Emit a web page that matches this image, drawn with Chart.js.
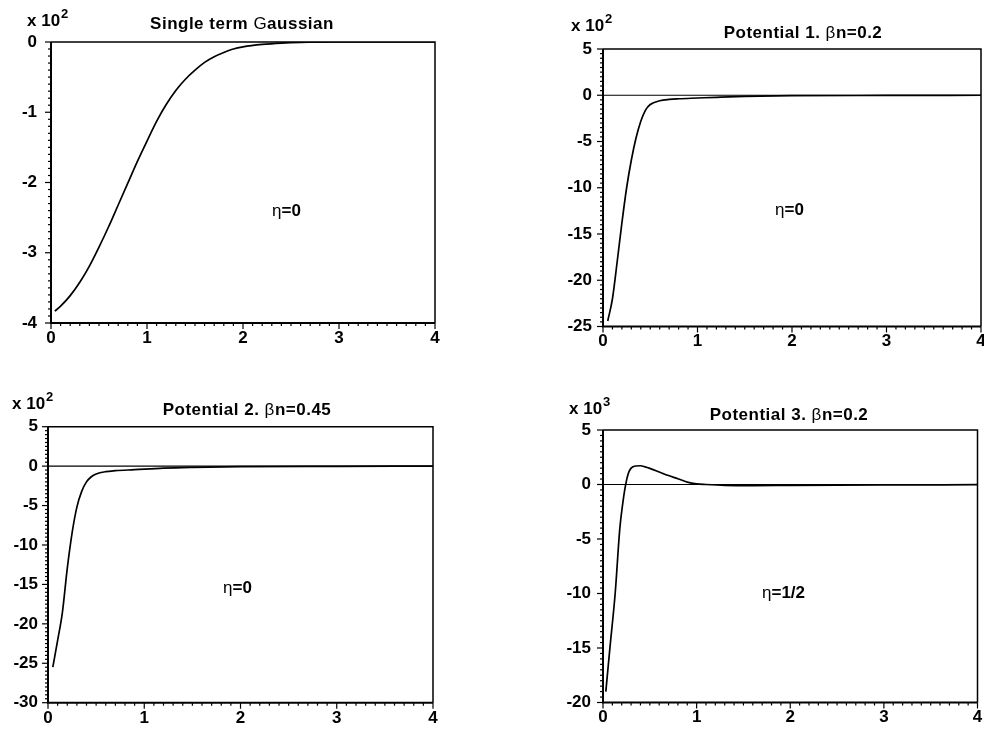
<!DOCTYPE html>
<html>
<head>
<meta charset="utf-8">
<script src="https://cdn.jsdelivr.net/npm/chart.js@4"></script>
<style>
  html,body{margin:0;padding:0;background:#fff;width:984px;height:729px;overflow:hidden;}
  .pane{position:absolute;}
  .txt{position:absolute;font-family:"Liberation Sans",Arial,sans-serif;color:#000;white-space:nowrap;line-height:1;}
  .title{font-weight:bold;font-size:17px;letter-spacing:0.5px;transform:translate(-50%,-50%);}
  .mult{font-weight:bold;font-size:17px;}
  .mult span{font-size:13px;position:relative;top:-8px;margin-left:1px;}
  .eta{font-size:17px;transform:translate(0,-50%);}
  .eta b{font-weight:bold;}
  .nb{font-weight:normal;}
</style>
</head>
<body>
<div class="pane" style="left:0;top:0;"><canvas id="c1" width="492" height="364"></canvas></div>
<div class="pane" style="left:492px;top:0;"><canvas id="c2" width="500" height="364"></canvas></div>
<div class="pane" style="left:0;top:364px;"><canvas id="c3" width="492" height="365"></canvas></div>
<div class="pane" style="left:492px;top:364px;"><canvas id="c4" width="500" height="365"></canvas></div>

<div class="txt title" style="left:242px;top:23px;">Single term <span class="nb">G</span>aussian</div>
<div class="txt title" style="left:803px;top:32px;">Potential 1. <span class="nb">β</span>n=0.2</div>
<div class="txt title" style="left:247px;top:409px;">Potential 2. <span class="nb">β</span>n=0.45</div>
<div class="txt title" style="left:789px;top:414px;">Potential 3. <span class="nb">β</span>n=0.2</div>

<div class="txt mult" style="left:27px;top:12px;">x 10<span>2</span></div>
<div class="txt mult" style="left:571px;top:17px;">x 10<span>2</span></div>
<div class="txt mult" style="left:12px;top:395px;">x 10<span>2</span></div>
<div class="txt mult" style="left:569px;top:400px;">x 10<span>3</span></div>

<div class="txt eta" style="left:272px;top:210px;">η<b>=0</b></div>
<div class="txt eta" style="left:775px;top:209px;">η<b>=0</b></div>
<div class="txt eta" style="left:223px;top:587px;">η<b>=0</b></div>
<div class="txt eta" style="left:762px;top:592px;">η<b>=1/2</b></div>

<script>
// ---- data ----
const xTickLabels = [0, 1, 2, 3, 4];

// Panel 1: Single term Gaussian (x 10^2)
const p1X = [0.04, 0.1, 0.2, 0.3, 0.4, 0.5, 0.6, 0.7, 0.8, 0.9, 1.0, 1.1, 1.2, 1.3, 1.4, 1.5, 1.6, 1.7, 1.8, 1.9, 2.0, 2.2, 2.4, 2.6, 3.0, 3.5, 4.0];
const p1Y = [-3.83, -3.76, -3.61, -3.42, -3.19, -2.92, -2.63, -2.32, -2.01, -1.70, -1.41, -1.13, -0.89, -0.69, -0.53, -0.40, -0.29, -0.21, -0.15, -0.10, -0.07, -0.035, -0.015, -0.005, 0, 0, 0];
const p1YTicks = [0, -1, -2, -3, -4];

// Panel 2: Potential 1, βn=0.2 (x 10^2)
const p2X = [0.05, 0.1, 0.15, 0.2, 0.25, 0.3, 0.35, 0.4, 0.45, 0.5, 0.6, 0.7, 0.8, 1.0, 1.2, 1.5, 2.0, 3.0, 4.0];
const p2Y = [-24.4, -22.0, -18.0, -13.8, -10.0, -7.0, -4.6, -2.8, -1.6, -1.0, -0.6, -0.45, -0.38, -0.3, -0.22, -0.12, -0.05, -0.02, 0];
const p2YTicks = [5, 0, -5, -10, -15, -20, -25];

// Panel 3: Potential 2, βn=0.45 (x 10^2)
const p3X = [0.05, 0.1, 0.15, 0.2, 0.25, 0.3, 0.35, 0.4, 0.45, 0.5, 0.6, 0.7, 0.9, 1.2, 1.5, 2.0, 3.0, 4.0];
const p3Y = [-25.5, -22.1, -18.5, -13.0, -8.5, -5.2, -3.2, -2.0, -1.35, -1.0, -0.7, -0.58, -0.45, -0.25, -0.15, -0.06, -0.02, 0];
const p3YTicks = [5, 0, -5, -10, -15, -20, -25, -30];

// Panel 4: Potential 3, βn=0.2 (x 10^3)
const p4X = [0.03, 0.075, 0.13, 0.18, 0.21, 0.24, 0.27, 0.30, 0.35, 0.40, 0.45, 0.50, 0.60, 0.70, 0.80, 0.90, 1.0, 1.1, 1.3, 1.6, 2.0, 3.0, 4.0];
const p4Y = [-19.0, -14.9, -10.0, -4.0, -1.8, -0.1, 1.0, 1.5, 1.7, 1.72, 1.62, 1.48, 1.15, 0.82, 0.53, 0.22, 0.06, 0.0, -0.08, -0.1, -0.08, -0.04, -0.02];
const p4YTicks = [5, 0, -5, -10, -15, -20];

// ---- drawing ----
const FONT = '"Liberation Sans", Arial, sans-serif';

const framePlugin = {
  id: 'frame',
  afterDraw(chart, args, opts) {
    const { ctx, chartArea: a, scales: { x, y } } = chart;
    ctx.save();
    ctx.strokeStyle = '#000';
    ctx.lineCap = 'butt';
    if (opts.zero) {
      const yz = y.getPixelForValue(0);
      ctx.lineWidth = 1.2;
      ctx.beginPath(); ctx.moveTo(a.left, yz); ctx.lineTo(a.right, yz); ctx.stroke();
    }
    ctx.lineWidth = 1.5;
    ctx.beginPath();
    ctx.moveTo(a.left, a.top); ctx.lineTo(a.right, a.top); ctx.lineTo(a.right, a.bottom);
    ctx.stroke();
    ctx.lineWidth = 2;
    ctx.beginPath();
    ctx.moveTo(a.left, a.top); ctx.lineTo(a.left, a.bottom); ctx.lineTo(a.right, a.bottom);
    ctx.stroke();
    ctx.lineWidth = 1.2;
    const nx = Math.round((x.max - x.min) / opts.xMinor);
    for (let i = 0; i <= nx; i++) {
      const v = x.min + i * opts.xMinor;
      const major = Math.abs(v - Math.round(v)) < 1e-6;
      const px = x.getPixelForValue(v);
      ctx.beginPath(); ctx.moveTo(px, a.bottom); ctx.lineTo(px, a.bottom + (major ? 6 : 3)); ctx.stroke();
    }
    const ny = Math.round((y.max - y.min) / opts.yMinor);
    for (let i = 0; i <= ny; i++) {
      const v = y.min + i * opts.yMinor;
      const major = Math.abs(v / opts.yMajor - Math.round(v / opts.yMajor)) < 1e-6;
      const py = y.getPixelForValue(v);
      ctx.beginPath(); ctx.moveTo(a.left, py); ctx.lineTo(a.left - (major ? 6 : 3), py); ctx.stroke();
    }
    ctx.restore();
  }
};

function makeChart(id, xs, ys, yTicks, area, frameOpts, yPad) {
  const canvas = document.getElementById(id);
  const W = canvas.width, H = canvas.height;
  const yMin = Math.min(...yTicks), yMax = Math.max(...yTicks);
  return new Chart(canvas, {
    type: 'line',
    data: {
      datasets: [{
        data: xs.map((v, i) => ({ x: v, y: ys[i] })),
        borderColor: '#000',
        borderWidth: 1.7,
        pointRadius: 0,
        fill: false,
        cubicInterpolationMode: 'monotone'
      }]
    },
    options: {
      responsive: false,
      devicePixelRatio: 1,
      animation: false,
      events: [],
      layout: { padding: { left: 0, top: area.top, right: W - area.right, bottom: 0 } },
      plugins: { legend: { display: false }, tooltip: { enabled: false }, title: { display: false }, frame: frameOpts },
      scales: {
        x: {
          type: 'linear', min: 0, max: 4,
          afterBuildTicks: s => { s.ticks = xTickLabels.map(v => ({ value: v })); },
          afterFit: s => { s.height = H - area.bottom; },
          grid: { display: false, drawTicks: false },
          border: { display: false },
          ticks: { color: '#000', font: { family: FONT, size: 17, weight: 'bold' }, padding: 5, maxRotation: 0, autoSkip: false }
        },
        y: {
          type: 'linear', min: yMin, max: yMax,
          afterBuildTicks: s => { s.ticks = yTicks.map(v => ({ value: v })); },
          afterFit: s => { s.width = area.left; },
          grid: { display: false, drawTicks: false },
          border: { display: false },
          ticks: { color: '#000', font: { family: FONT, size: 17, weight: 'bold' }, padding: yPad, autoSkip: false }
        }
      }
    },
    plugins: [framePlugin]
  });
}

makeChart('c1', p1X, p1Y, p1YTicks, { left: 51, right: 435, top: 42, bottom: 323 },
  { zero: false, xMinor: 0.1, yMinor: 0.1, yMajor: 1 }, 14);
makeChart('c2', p2X, p2Y, p2YTicks, { left: 111, right: 489, top: 49, bottom: 326.5 },
  { zero: true, xMinor: 0.1, yMinor: 0.5, yMajor: 5 }, 11);
makeChart('c3', p3X, p3Y, p3YTicks, { left: 48, right: 433, top: 62.7, bottom: 338.7 },
  { zero: true, xMinor: 0.1, yMinor: 0.5, yMajor: 5 }, 10);
makeChart('c4', p4X, p4Y, p4YTicks, { left: 111, right: 485.5, top: 66, bottom: 338.5 },
  { zero: true, xMinor: 0.1, yMinor: 0.5, yMajor: 5 }, 12);
</script>
</body>
</html>
